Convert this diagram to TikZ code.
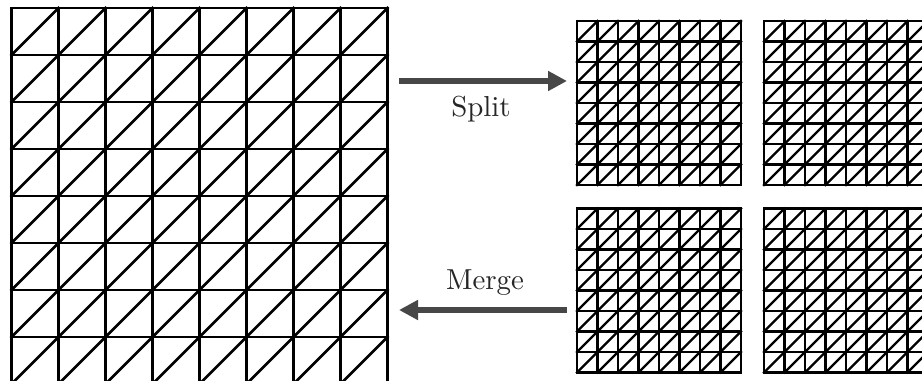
\documentclass[tikz,border=0pt]{standalone}
\usepackage{amsmath,amssymb}
\usetikzlibrary{arrows.meta}
\definecolor{ink}{HTML}{000000}
\definecolor{flow}{HTML}{474747}
\tikzset{
  meshline/.style={ink,line width=1.95pt,line cap=rect},
  fineline/.style={ink,line width=1.75pt,line cap=rect},
  flowarrow/.style={flow,line width=.065in,-{Triangle[length=.19in,width=.19in]}},
  flowlabel/.style={text=black!85,scale=2.09}
}
\begin{document}
\begin{tikzpicture}[x=1in,y=1in]
  \useasboundingbox (0,0) rectangle (9.22,3.80);
  \clip (0,0) rectangle (9.22,3.80);

  % Coarse mesh on the left, cut off by the lower edge.
  \foreach \i in {0,...,8}
    \draw[meshline] (.115+\i*.47,-.04) -- (.115+\i*.47,3.72);
  \foreach \i in {0,...,8}
    \draw[meshline] (.115,3.72-\i*.47) -- (3.875,3.72-\i*.47);
  \foreach \i in {0,...,7}
    \foreach \j in {0,...,7}
      \draw[meshline] (.115+\i*.47,3.25-\j*.47) -- +(.47,.47);

  % Fine meshes: left edge / lower edge of each block.
  \foreach \x/\y in {5.77/1.95,7.64/1.95,5.77/.075,7.64/.075} {
    \foreach \i in {0,...,8} {
      \draw[fineline] (\x+\i*.205,\y) -- +(0,1.64);
      \draw[fineline] (\x,\y+\i*.205) -- +(1.64,0);
    }
    \foreach \i in {0,...,7}
      \foreach \j in {0,...,7}
        \draw[fineline] (\x+\i*.205,\y+\j*.205) -- +(.205,.205);
  }

  % Split and merge arrows.
  \coordinate (splitstart) at (3.99,2.99);
  \coordinate (splitend) at (5.67,2.99);
  \coordinate (mergestart) at (5.67,.70);
  \coordinate (mergeend) at (3.99,.70);
  \draw[flowarrow] (splitstart) -- (splitend);
  \draw[flowarrow] (mergestart) -- (mergeend);
  \node[flowlabel] (splitlabel) at (4.81,2.71) {Split};
  \node[flowlabel] (mergelabel) at (4.85,.97) {Merge};
\end{tikzpicture}
\end{document}
